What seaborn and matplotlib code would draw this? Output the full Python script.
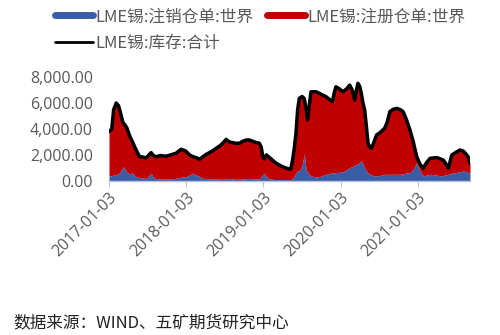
import matplotlib
matplotlib.use("Agg")
import matplotlib.pyplot as plt
import matplotlib.dates as mdates
from matplotlib.lines import Line2D
from matplotlib.ticker import FuncFormatter, FixedLocator
import seaborn as sns
import pandas as pd

dates = [
    "2017-01-03", "2017-01-16", "2017-01-25", "2017-02-06", "2017-02-17", "2017-02-27",
    "2017-03-10", "2017-03-20", "2017-03-28", "2017-04-10", "2017-04-24", "2017-05-08",
    "2017-05-27", "2017-06-10", "2017-06-28", "2017-07-08", "2017-07-21", "2017-08-01",
    "2017-08-14", "2017-09-03", "2017-09-30", "2017-10-20", "2017-11-16", "2017-12-10",
    "2018-01-01", "2018-01-19", "2018-02-03", "2018-02-18", "2018-03-07", "2018-03-22",
    "2018-04-08", "2018-05-01", "2018-05-25", "2018-06-15", "2018-06-30", "2018-07-11",
    "2018-07-26", "2018-08-10", "2018-08-26", "2018-09-12", "2018-09-27", "2018-10-14",
    "2018-10-29", "2018-11-22", "2018-12-15", "2018-12-24", "2018-12-31", "2019-01-08",
    "2019-01-17", "2019-02-01", "2019-03-04", "2019-04-03", "2019-05-06", "2019-05-13",
    "2019-05-21", "2019-05-29", "2019-06-06", "2019-06-14", "2019-06-22", "2019-07-05",
    "2019-07-15", "2019-07-24", "2019-07-31", "2019-08-08", "2019-08-16", "2019-09-09",
    "2019-09-30", "2019-10-26", "2019-11-10", "2019-11-26", "2019-12-04", "2019-12-12",
    "2019-12-28", "2020-01-14", "2020-02-01", "2020-02-15", "2020-02-27", "2020-03-10",
    "2020-03-18", "2020-03-25", "2020-04-02", "2020-04-10", "2020-04-18", "2020-04-26",
    "2020-05-04", "2020-05-12", "2020-05-20", "2020-05-28", "2020-06-09", "2020-06-21",
    "2020-07-06", "2020-07-29", "2020-08-10", "2020-08-23", "2020-09-06", "2020-09-24",
    "2020-10-10", "2020-10-25", "2020-11-10", "2020-11-26", "2020-12-12", "2020-12-28",
    "2021-01-12", "2021-01-28", "2021-02-12", "2021-03-01", "2021-04-02", "2021-04-18",
    "2021-05-03", "2021-05-16", "2021-05-27", "2021-06-04", "2021-06-12", "2021-07-01",
    "2021-07-21", "2021-08-05", "2021-08-22", "2021-08-30", "2021-09-06",
]

total_stock = [
    3800, 4000, 5500, 6000, 5800, 5200,
    4500, 4300, 4100, 3500, 3000, 2500,
    1870, 1850, 1770, 1950, 2180, 1950,
    1870, 1950, 1900, 2000, 2130, 2440,
    2300, 2000, 1870, 1800, 1670, 1850,
    2050, 2250, 2510, 2750, 3000, 3200,
    3000, 2950, 2900, 2900, 3050, 3150,
    3150, 3000, 2900, 2600, 1870, 1700,
    2000, 1800, 1360, 1100, 900, 950,
    1600, 2500, 3650, 5500, 6360, 6500,
    6360, 5600, 4700, 5800, 6870, 6870,
    6700, 6490, 6300, 6100, 6800, 7250,
    7100, 6870, 7100, 7380, 7000, 6230,
    7000, 7520, 7300, 6750, 6000, 5460,
    4200, 2900, 2600, 2510, 3000, 3540,
    3700, 4050, 4500, 5330, 5500, 5590,
    5500, 5330, 4700, 3920, 3000, 1870,
    1300, 980, 1400, 1740, 1800, 1700,
    1600, 1300, 980, 1500, 2000, 2200,
    2380, 2300, 2000, 1800, 1360,
]

cancelled = [
    380, 400, 450, 500, 550, 700,
    1100, 900, 650, 550, 620, 350,
    250, 220, 200, 350, 600, 250,
    180, 150, 130, 150, 200, 280,
    320, 450, 560, 480, 350, 200,
    180, 150, 150, 120, 130, 150,
    200, 150, 120, 130, 150, 180,
    200, 150, 150, 300, 500, 560,
    300, 150, 100, 100, 100, 120,
    200, 400, 600, 770, 750, 1200,
    2050, 900, 640, 500, 380, 300,
    350, 510, 560, 640, 600, 640,
    660, 700, 850, 1020, 1100, 1200,
    1280, 1300, 1450, 1540, 1300, 1000,
    770, 600, 510, 450, 400, 380,
    420, 510, 500, 510, 510, 500,
    510, 550, 600, 640, 900, 1410,
    770, 380, 450, 510, 450, 380,
    420, 480, 510, 550, 600, 640,
    700, 770, 700, 640, 600,
]

tick_dates = ["2017-01-03", "2018-01-03", "2019-01-03", "2020-01-03", "2021-01-03"]
y_ticks = [0, 2000, 4000, 6000, 8000]

label_cancel = "LME锡:注销仓单:世界"
label_reg = "LME锡:注册仓单:世界"
label_total = "LME锡:库存:合计"
source_text = "数据来源：WIND、五矿期货研究中心"

df = pd.DataFrame({"date": pd.to_datetime(dates), "total": total_stock, "cancelled": cancelled})
df["registered"] = df["total"] - df["cancelled"]

sns.set_style("white")
plt.rcParams["font.family"] = ["Noto Sans CJK SC", "DejaVu Sans"]

blue = "#3A5DA8"
red = "#C00000"

fig = plt.figure(figsize=(5.0, 3.35), dpi=100)
ax = fig.add_axes([0.218, 0.46, 0.722, 0.31])

ax.stackplot(df["date"], df["cancelled"], df["registered"], colors=[blue, red], linewidth=0)
sns.lineplot(data=df, x="date", y="total", ax=ax, color="black", linewidth=2.5, legend=False)

ax.set_xlim(pd.Timestamp(dates[0]), pd.Timestamp(dates[-1]))
ax.set_ylim(0, 8000)
ax.xaxis.set_major_locator(FixedLocator(mdates.date2num(pd.to_datetime(tick_dates))))
ax.xaxis.set_major_formatter(mdates.DateFormatter("%Y-%m-%d"))
ax.yaxis.set_major_locator(FixedLocator(y_ticks))
ax.yaxis.set_major_formatter(FuncFormatter(lambda v, p: f"{v:,.2f}"))
ax.set_xlabel("")
ax.set_ylabel("")

for s in ["top", "right", "left"]:
    ax.spines[s].set_visible(False)
ax.spines["bottom"].set_color("#B8C4D8")
ax.spines["bottom"].set_linewidth(1.0)
ax.tick_params(axis="x", bottom=True, length=4, color="#B8C4D8", pad=2)
ax.tick_params(axis="y", left=False, pad=8)
for lab in ax.get_xticklabels():
    lab.set_rotation(45)
    lab.set_ha("right")
    lab.set_rotation_mode("anchor")
    lab.set_fontfamily("Open Sans")
    lab.set_fontsize(11.5)
    lab.set_color("#595959")
for lab in ax.get_yticklabels():
    lab.set_fontfamily("Open Sans")
    lab.set_fontsize(11.5)
    lab.set_color("#595959")

handles = [
    Line2D([0], [0], color=blue, lw=5),
    Line2D([0], [0], color="black", lw=2),
    Line2D([0], [0], color=red, lw=5),
]
labels = [label_cancel, label_total, label_reg]
leg = fig.legend(handles, labels, ncol=2, loc="upper left", bbox_to_anchor=(0.09, 1.005),
                 frameon=False, fontsize=12, handlelength=2.3, handletextpad=0.12,
                 columnspacing=0.8, labelspacing=0.6, borderaxespad=0.2)
for t in leg.get_texts():
    t.set_color("#595959")

fig.text(0.026, 0.036, source_text, fontsize=12, color="#222222", va="center", ha="left")

fig.savefig("out.png", dpi=100)
